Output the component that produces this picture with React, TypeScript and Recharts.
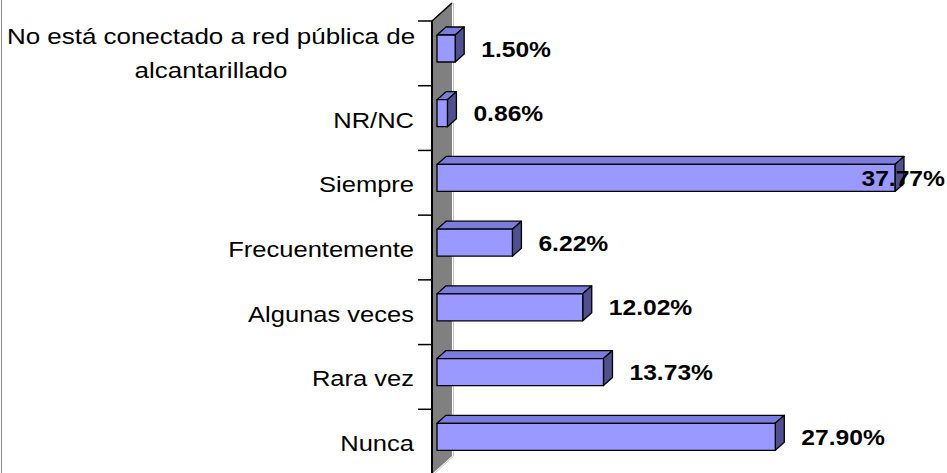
import {
  BarChart,
  Bar,
  XAxis,
  YAxis,
  ReferenceArea,
  LabelList,
} from "recharts";

const categories: string[] = [
  "No está conectado a red pública de\nalcantarillado",
  "NR/NC",
  "Siempre",
  "Frecuentemente",
  "Algunas veces",
  "Rara vez",
  "Nunca",
];

const percentages: number[] = [1.5, 0.86, 37.77, 6.22, 12.02, 13.73, 27.9];

const valueDomain: [number, number] = [0, 40];

const FONT = '"Liberation Sans", Arial, sans-serif';
const FRONT = "#9999FF";
const TOP = "#7C7CDC";
const SIDE = "#50508E";
const DX = 9; // depth of the 3d boxes
const DY = 8;
const LIFT = 5; // boxes sit a bit above the band centre

const rows = categories.map((category, i) => ({
  category,
  value: percentages[i],
}));

function Bar3D(props: any) {
  const { x, width, height } = props;
  const y = props.y - LIFT;
  const w = Math.max(width, 0);
  const top = `M${x},${y} L${x + DX},${y - DY} L${x + w + DX},${y - DY} L${x + w},${y} Z`;
  const side = `M${x + w},${y} L${x + w + DX},${y - DY} L${x + w + DX},${y + height - DY} L${x + w},${y + height} Z`;
  return (
    <g stroke="#000" strokeWidth={1.3} strokeLinejoin="round">
      <path d={top} fill={TOP} />
      <path d={side} fill={SIDE} />
      <rect x={x} y={y} width={w} height={height} fill={FRONT} />
    </g>
  );
}

function Wall(props: any) {
  const { x, y, height } = props;
  const n = categories.length;
  const left = x - 5;
  const right = x + 15;
  const rise = 18;
  return (
    <g>
      <polygon
        points={`${left},${y} ${right},${y - rise} ${right},${y + height - rise} ${left},${y + height}`}
        fill="#808080"
      />
      <polyline
        points={`${right + 1.5},${y - rise} ${right + 1.5},${y + height - rise} ${left + 2},${y + height}`}
        fill="none"
        stroke="#c4c4c4"
        strokeWidth={1}
      />
      <line x1={left} y1={y} x2={right} y2={y - rise} stroke="#000" strokeWidth={1.5} />
      <line x1={left} y1={y} x2={left} y2={y + height + 2} stroke="#000" strokeWidth={2} />
      {categories.map((_, i) => (
        <line
          key={i}
          x1={left - 14}
          x2={left}
          y1={y + (i * height) / n}
          y2={y + (i * height) / n}
          stroke="#000"
          strokeWidth={1.5}
        />
      ))}
    </g>
  );
}

function CategoryTick(props: any) {
  const { x, y, payload } = props;
  const lines = String(payload.value).split("\n");
  const style = { fontFamily: FONT, fontSize: 22, fill: "#000" };
  if (lines.length === 1) {
    return (
      <g transform={`translate(${x},${y + 9.5}) scale(1.16,1)`}>
        <text x={0} y={0} textAnchor="end" style={style}>
          {lines[0]}
        </text>
      </g>
    );
  }
  // wrapped label: lines centred on the block, block right aligned
  const half = 203;
  return (
    <g>
      {lines.map((line, i) => (
        <g key={i} transform={`translate(${x - half},${y - 9.5 + i * 34.5}) scale(1.18,1)`}>
          <text x={0} y={0} textAnchor="middle" style={style}>
            {line}
          </text>
        </g>
      ))}
    </g>
  );
}

const CHAR_W: Record<string, number> = { ".": 0.278, "%": 0.889 };

function ValueLabel(props: any) {
  const { x, y, width, height, value } = props;
  const text = `${Number(value).toFixed(2)}%`;
  const fs = 22;
  const sx = 1.12;
  const textW = text.split("").reduce((s, c) => s + (CHAR_W[c] ?? 0.556), 0) * fs * sx;
  let left = x + width + 26;
  if (left + textW > 945) left = 945 - textW;
  const base = y + height / 2 - LIFT + 8;
  return (
    <g transform={`translate(${left},${base}) scale(${sx},1)`}>
      <text x={0} y={0} style={{ fontFamily: FONT, fontSize: fs, fontWeight: 700, fill: "#000" }}>
        {text}
      </text>
    </g>
  );
}

export default function App() {
  return (
    <div
      style={{
        position: "absolute",
        left: 0,
        top: 0,
        width: 947,
        height: 473,
        overflow: "hidden",
        background: "#fff",
      }}
    >
      <div style={{ position: "absolute", left: 1, top: 0, width: 1, height: 473, background: "#8c8c8c" }} />
      <BarChart
        layout="vertical"
        width={947}
        height={474}
        data={rows}
        margin={{ top: 21, right: 25, bottom: 0, left: 0 }}
      >
        <XAxis type="number" domain={valueDomain} hide />
        <YAxis
          type="category"
          dataKey="category"
          width={437}
          axisLine={false}
          tickLine={false}
          tickSize={0}
          tickMargin={23}
          interval={0}
          tick={(p: any) => <CategoryTick {...p} />}
        />
        <ReferenceArea x1={0} x2={1} ifOverflow="visible" shape={(p: any) => <Wall {...p} />} />
        <Bar dataKey="value" barSize={27} shape={(p: any) => <Bar3D {...p} />} isAnimationActive={false}>
          <LabelList dataKey="value" content={(p: any) => <ValueLabel {...p} />} />
        </Bar>
      </BarChart>
    </div>
  );
}
